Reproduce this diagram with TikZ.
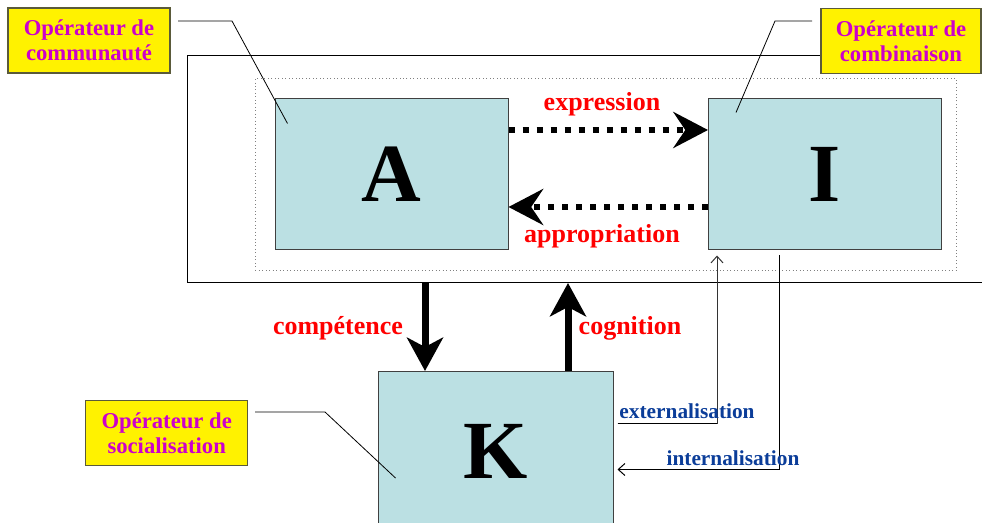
\documentclass[tikz,border=0pt]{standalone}
\usepackage{fontspec}
\setmainfont{Liberation Serif}
\usetikzlibrary{arrows.meta,calc}
\definecolor{boxblue}{HTML}{BBE0E3}
\definecolor{magtext}{HTML}{CC00CC}
\definecolor{bluetext}{HTML}{0B3D99}
\definecolor{olivebd}{HTML}{5A5A3A}
\begin{document}
\begin{tikzpicture}[x=0.75pt,y=-0.75pt,
  opbox/.style={draw=olivebd, line width=0.8pt, fill=yellow, text=magtext,
    font=\bfseries\fontsize{17}{18.5}\selectfont, align=center,
    minimum width=121.5pt, minimum height=48.75pt, inner sep=0pt},
  bluebox/.style={draw=black!75, line width=0.75pt, fill=boxblue,
    minimum width=174.75pt, minimum height=113.25pt,
    font=\bfseries\fontsize{62}{66}\selectfont, inner sep=0pt},
  redlab/.style={text=red, font=\bfseries\fontsize{19.5}{22}\selectfont, inner sep=0pt},
  bluelab/.style={text=bluetext, font=\bfseries\fontsize{16}{18}\selectfont, inner sep=0pt},
  dotarrow/.style={line width=4.5pt, dash pattern=on 4.5pt off 6pt,
    -{Stealth[length=26pt,width=27pt,inset=9pt]}},
  bigarrow/.style={line width=5.25pt, -{Stealth[length=25pt,width=27pt,inset=7pt]}},
  leader/.style={line width=0.6pt},
  thinarrow/.style={line width=0.75pt, draw=black!80, -{Straight Barb[length=5pt,width=9pt]}}
]
\useasboundingbox (0,0) rectangle (982,523);
\clip (0,0) rectangle (982,523);

% frames
\node[draw, line width=0.75pt, minimum width=609.75pt, minimum height=170.25pt,
  anchor=north west, inner sep=0pt] (outer) at (187,55) {};
\node[draw=gray, dotted, line width=0.6pt, minimum width=525.75pt, minimum height=144pt,
  anchor=north west, inner sep=0pt] (inner) at (255,78) {};

% boxes
\node[bluebox] (A) at (391.5,174.5) {A};
\node[bluebox] (I) at (825,174.5) {I};
\node[bluebox, anchor=north, minimum width=176.25pt, minimum height=119.25pt] (K) at (495.5,371) {K};

% dotted arrows
\draw[dotarrow] ($(A.east)+(0,-44.5)$) -- ($(I.west)+(0,-44.5)$);
\draw[dotarrow] ($(I.west)+(0,32.5)$) -- ($(A.east)+(0,32.5)$);
\node[redlab] (expr) at (602,104) {expression};
\node[redlab] (appr) at (602,236) {appropriation};

% big arrows
\coordinate (kc) at ($(K.north)+(-70.5,0)$);
\coordinate (kg) at ($(K.north)+(72.5,0)$);
\draw[bigarrow] (kc |- outer.south) -- (kc);
\draw[bigarrow] (kg) -- (kg |- outer.south);
\node[redlab] (comp) at (338,328) {compétence};
\node[redlab] (cogn) at (630,328) {cognition};

% externalisation / internalisation
\coordinate (exs) at ($(K.east)+(4,-27.5)$);
\coordinate (exe) at ($(I.south west)+(9,5)$);
\coordinate (ins) at ($(I.south west)+(71,5)$);
\coordinate (ine) at ($(K.east)+(4,18.5)$);
\draw[thinarrow] (exs) -| (exe);
\draw[line width=1.2pt] (exs) -- (exs -| exe);
\draw[thinarrow, draw=black] (ins) |- (ine);
\node[bluelab] (ext) at (687,411) {externalisation};
\node[bluelab] (int) at (733,458) {internalisation};

% operator labels
\coordinate (l1a) at (178,21);
\coordinate (l1b) at (232,21);
\coordinate (l1c) at ($(A.north west)+(13,25)$);
\draw[leader] (l1a) -- (l1b) -- (l1c);
\coordinate (l2a) at (812,21);
\coordinate (l2b) at (775,21);
\coordinate (l2c) at ($(I.north west)+(28,14)$);
\draw[leader] (l2a) -- (l2b) -- (l2c);
\coordinate (l3a) at (255,412);
\coordinate (l3b) at (325,412);
\coordinate (l3c) at ($(K.north west)+(18,107)$);
\draw[leader] (l3a) -- (l3b) -- (l3c);

\node[opbox] (comm) at (89,40.5) {Opérateur de\\communauté};
\node[opbox, minimum width=120pt] (comb) at (901,41) {Opérateur de\\combinaison};
\node[opbox] (soc) at (166.7,433) {Opérateur de\\socialisation};
\end{tikzpicture}
\end{document}
